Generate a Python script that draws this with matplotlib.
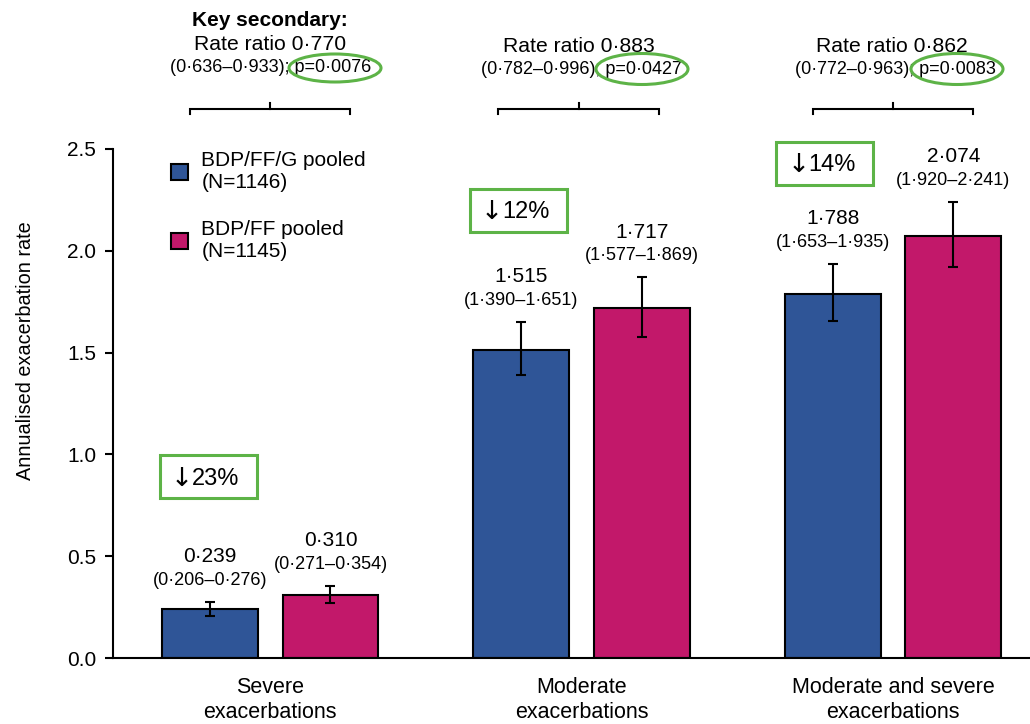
import matplotlib
matplotlib.use("Agg")
import matplotlib.pyplot as plt
import matplotlib.transforms as mtransforms
from matplotlib.patches import Patch, Ellipse, Rectangle
import numpy as np

plt.rcParams['font.family'] = ['Liberation Sans', 'DejaVu Sans']

categories = ["Severe\nexacerbations", "Moderate\nexacerbations", "Moderate and severe\nexacerbations"]
triple_rate = [0.239, 1.515, 1.788]
triple_lo = [0.206, 1.390, 1.653]
triple_hi = [0.276, 1.651, 1.935]
dual_rate = [0.310, 1.717, 2.074]
dual_lo = [0.271, 1.577, 1.920]
dual_hi = [0.354, 1.869, 2.241]
series_names = ["BDP/FF/G pooled\n(N=1146)", "BDP/FF pooled\n(N=1145)"]
rate_ratio = ["0·770", "0·883", "0·862"]
rr_ci = ["(0·636–0·933); ", "(0·782–0·996); ", "(0·772–0·963); "]
p_values = ["p=0·0076", "p=0·0427", "p=0·0083"]
reductions = ["23%", "12%", "14%"]
yticks = [0.0, 0.5, 1.0, 1.5, 2.0, 2.5]

BLUE = "#2F5597"
MAG = "#C2186A"
GREEN = "#5DB347"

W, H = 1030, 724
fig = plt.figure(figsize=(W / 100, H / 100), dpi=100)
ax = fig.add_axes([113 / W, 1 - 658 / H, 1 - 113 / W, (658 - 149) / H])

x = np.arange(len(categories))
off = 0.1935
bw = 0.308
PXX = 1 / 311.4  # data units per horizontal pixel
PXY = 1 / 203.6  # data units per vertical pixel


def fmt(v):
    return f"{v:.3f}".replace(".", "·")


for xs, rate, lo, hi, col in [(x - off, triple_rate, triple_lo, triple_hi, BLUE),
                              (x + off, dual_rate, dual_lo, dual_hi, MAG)]:
    rate = np.array(rate); lo = np.array(lo); hi = np.array(hi)
    ax.bar(xs, rate, bw, color=col, edgecolor="black", linewidth=1.5, zorder=2)
    ax.errorbar(xs, rate, yerr=[rate - lo, hi - rate], fmt="none", ecolor="black",
                elinewidth=1.5, capsize=3.5, capthick=1.5, zorder=3)
    for xi, r, l, h in zip(xs, rate, lo, hi):
        ax.annotate(fmt(r), (xi, h), xytext=(0, 32.5), textcoords="offset points",
                    ha="center", va="center", fontsize=15)
        ax.annotate(f"({fmt(l)}–{fmt(h)})", (xi, h), xytext=(0, 15.5), textcoords="offset points",
                    ha="center", va="center", fontsize=13)

ax.set_xlim(-0.505, 2.44)
ax.set_ylim(0, 2.5)
ax.set_yticks(yticks)
ax.set_yticklabels([f"{t:.1f}" for t in yticks], fontsize=15)
ax.set_xticks(x)
ax.set_xticklabels(categories, fontsize=15.5, linespacing=1.2)
ax.tick_params(axis="x", length=0, pad=14)
ax.tick_params(axis="y", length=6, width=1.5, pad=6)
for s in ["top", "right"]:
    ax.spines[s].set_visible(False)
for s in ["left", "bottom"]:
    ax.spines[s].set_linewidth(1.5)
ax.set_ylabel("Annualised exacerbation rate", fontsize=14.3)
ax.yaxis.set_label_coords((35 - 113) / 917, (658 - 351) / 509)

# legend
handles = [Patch(facecolor=BLUE, edgecolor="black", linewidth=1.5),
           Patch(facecolor=MAG, edgecolor="black", linewidth=1.5)]
ax.legend(handles, series_names, loc="upper left", bbox_to_anchor=(0.0544, 1.012),
          frameon=False, fontsize=15, handlelength=0.8, handleheight=0.8,
          labelspacing=1.35, handletextpad=0.65, borderaxespad=0)

# reduction boxes (data coords): centre x, centre y
box_pos = [(-0.198, 0.89), (0.797, 2.20), (1.781, 2.43)]
bwid, bhgt = 97 * PXX, 43 * PXY
for (bx, by), txt in zip(box_pos, reductions):
    ax.add_patch(Rectangle((bx - bwid / 2, by - bhgt / 2), bwid, bhgt, facecolor="white",
                           edgecolor=GREEN, linewidth=2.2, zorder=5, clip_on=False))
    split = bx - 16.5 * PXX
    ty = by - 2 * PXY
    ax.text(split + 1 * PXX, ty, "↓", ha="right", va="center", fontsize=19,
            family="DejaVu Sans", zorder=6, clip_on=False)
    ax.text(split, ty, txt, ha="left", va="center", fontsize=17, zorder=6, clip_on=False)

# header annotations
trans = mtransforms.blended_transform_factory(ax.transData, fig.transFigure)


def fy(py):
    return 1 - py / H


fig.text(270 / W, fy(20), "Key secondary:", ha="center", va="center", fontsize=15, fontweight="bold")
rr_y = [45, 46, 46]
ci_y = [68, 70, 70]
brk_c = [0.0, 0.99, 2.0]
rr_x = [0.0, 0.99, 1.997]
ci_x = [0.0, 1.001, 2.009]
for i in range(3):
    ax.text(rr_x[i], fy(rr_y[i]), f"Rate ratio {rate_ratio[i]}", transform=trans,
            ha="center", va="center", fontsize=15.2)
    ax.text(ci_x[i], fy(ci_y[i]), rr_ci[i] + p_values[i], transform=trans,
            ha="center", va="center", fontsize=13)
    # bracket
    xl, xr = brk_c[i] - 0.257, brk_c[i] + 0.257
    ax.plot([xl, xl, xr, xr], [fy(114), fy(108.5), fy(108.5), fy(114)], transform=trans,
            color="black", lw=1.5, clip_on=False, solid_joinstyle="miter")
    ax.plot([brk_c[i], brk_c[i]], [fy(108.5), fy(103)], transform=trans,
            color="black", lw=1.5, clip_on=False)

# ellipses around p values (pixel positions)
ell = [(335, 68, 92, 28), (642, 69, 92, 31), (957, 69, 92, 31)]
for cx, cy, ew, eh in ell:
    e = Ellipse((cx / 100, (H - cy) / 100), ew / 100, eh / 100, transform=fig.dpi_scale_trans,
                facecolor="none", edgecolor=GREEN, linewidth=2.2)
    fig.add_artist(e)

fig.savefig("out.png", dpi=100)
